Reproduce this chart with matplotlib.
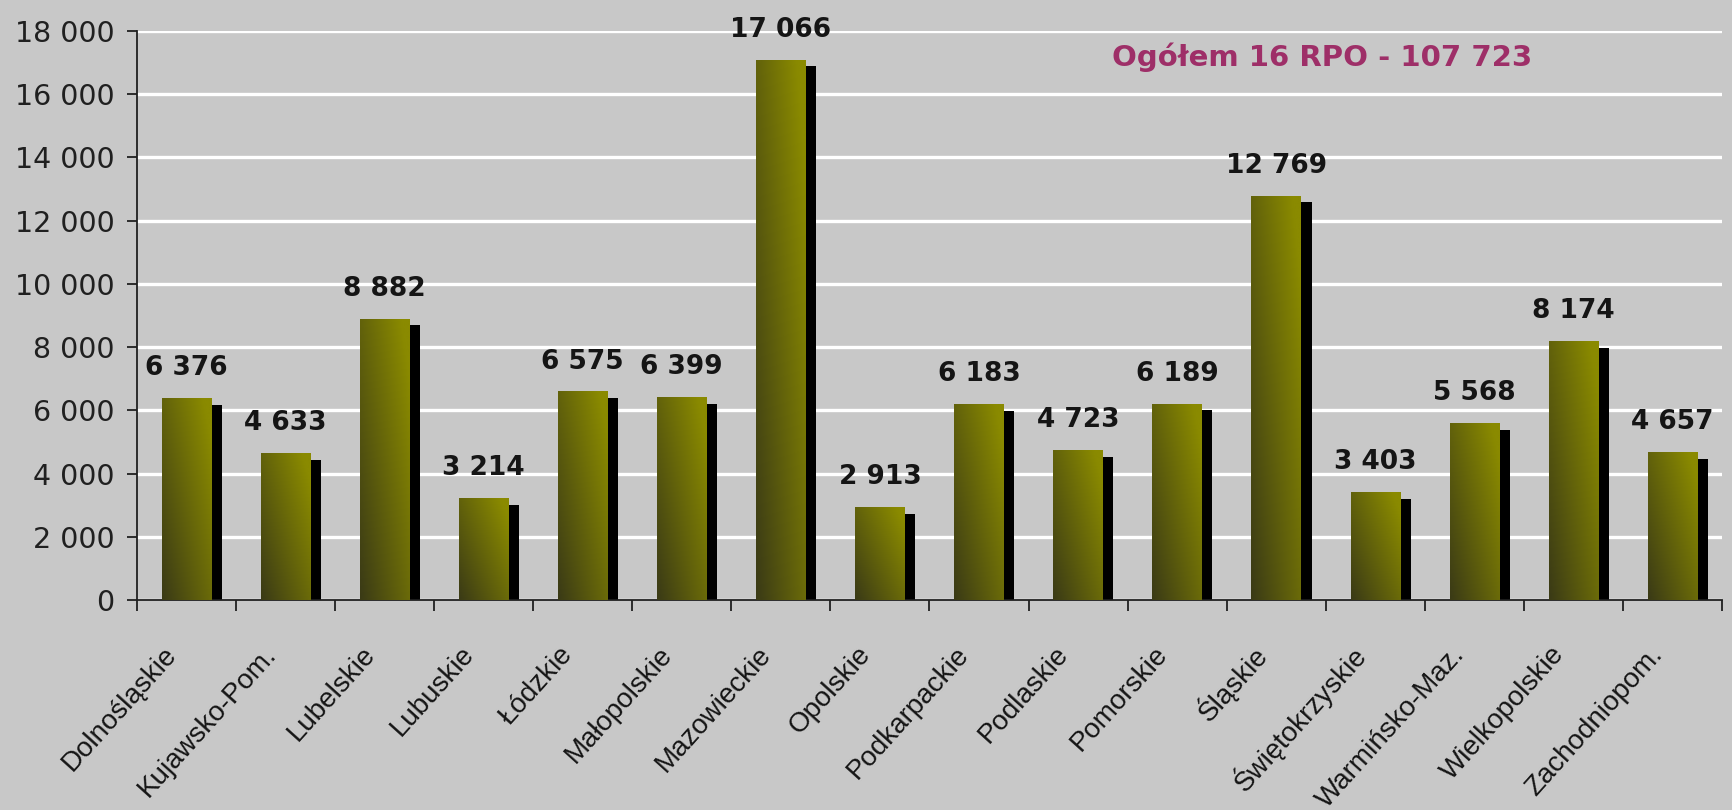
import numpy as np
import matplotlib
matplotlib.use("Agg")
import matplotlib.pyplot as plt
from matplotlib.patches import Rectangle
from matplotlib.transforms import ScaledTranslation

categories = ["Dolnośląskie", "Kujawsko-Pom.", "Lubelskie", "Lubuskie", "Łódzkie",
              "Małopolskie", "Mazowieckie", "Opolskie", "Podkarpackie", "Podlaskie",
              "Pomorskie", "Śląskie", "Świętokrzyskie", "Warmińsko-Maz.",
              "Wielkopolskie", "Zachodniopom."]
values = [6376, 4633, 8882, 3214, 6575, 6399, 17066, 2913, 6183, 4723, 6189,
          12769, 3403, 5568, 8174, 4657]
yticks = [0, 2000, 4000, 6000, 8000, 10000, 12000, 14000, 16000, 18000]
total_label = "Ogółem 16 RPO - 107 723"

def fmt(v):
    return f"{v:,}".replace(",", " ")

BG = "#C8C8C8"
plt.rcParams["font.family"] = ["DejaVu Sans"]

fig = plt.figure(figsize=(17.33, 8.10), dpi=100, facecolor=BG)
ax = fig.add_axes([0.079, 0.259, 0.9147, 0.703], facecolor=BG)

# gradient image for bars (dark bottom-left -> bright olive top-right)
nx, ny = 64, 128
gx = np.linspace(0, 1, nx)[None, :]
gy = np.linspace(0, 1, ny)[:, None]
t = np.clip(0.6 * gx + 0.5 * gy, 0, 1)
dark = np.array([58, 58, 22]) / 255.0
bright = np.array([138, 138, 0]) / 255.0
grad = dark[None, None, :] * (1 - t[..., None]) + bright[None, None, :] * t[..., None]

x = np.arange(len(categories))
w_main = 0.495
w_sh = 0.111
sh_drop = 190
for xi, v in zip(x, values):
    x0 = xi - 0.25
    x1 = x0 + w_main
    ax.add_patch(Rectangle((x1, 0), w_sh, v - sh_drop, facecolor="black",
                           edgecolor="none", zorder=2.5))
    ax.imshow(grad, extent=[x0, x1, 0, v], origin="lower", aspect="auto",
              interpolation="bilinear", zorder=3)
    ax.annotate(fmt(v), (xi, v), xytext=(0, 17), textcoords="offset points",
                ha="center", va="baseline", fontsize=19, fontweight="bold",
                color="#151515", zorder=4)

ax.set_xlim(-0.5, len(categories) - 0.5)
ax.set_ylim(0, 18000)
ax.set_aspect("auto")

# grid
ax.set_axisbelow(True)
ax.yaxis.grid(True, color="white", linewidth=2.4, zorder=0)
ax.xaxis.grid(False)

ax.set_yticks(yticks)
ax.set_yticklabels([fmt(v) for v in yticks], fontsize=20.5, color="#202020")
ax.tick_params(axis="y", direction="out", length=7, width=1.3, pad=9, colors="#202020")

ax.set_xticks(np.arange(len(categories) + 1) - 0.5)
ax.set_xticklabels([])
ax.tick_params(axis="x", which="major", direction="out", length=8, width=1.3, colors="#202020")
ax.set_xticks(x, categories, minor=True)
ax.tick_params(axis="x", which="minor", length=0, pad=36, labelsize=20, labelcolor="#151515")
off = ScaledTranslation(-0.14, 0, fig.dpi_scale_trans)
for lab in ax.get_xticklabels(minor=True):
    lab.set_family(["Liberation Sans", "DejaVu Sans"])
    lab.set_rotation(48)
    lab.set_ha("right")
    lab.set_va("center")
    lab.set_rotation_mode("anchor")
    lab.set_transform(lab.get_transform() + off)

for s in ["top", "right"]:
    ax.spines[s].set_visible(False)
for s in ["left", "bottom"]:
    ax.spines[s].set_color("#202020")
    ax.spines[s].set_linewidth(1.3)

ax.text(0.748, 0.954, total_label, transform=ax.transAxes, ha="center", va="center",
        fontsize=21, fontweight="bold", color="#9E2F68", zorder=5)

fig.savefig("out.png", dpi=100, facecolor=BG)
